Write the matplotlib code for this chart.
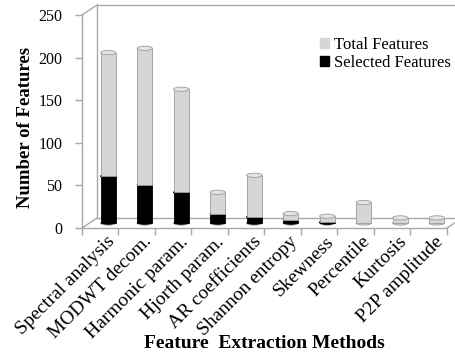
import numpy as np
import matplotlib.pyplot as plt
import matplotlib.transforms as mtransforms
from matplotlib.patches import Ellipse, Patch

plt.rcParams['font.family'] = ['Liberation Serif', 'DejaVu Serif']

methods = ['Spectral analysis', 'MODWT decom.', 'Harmonic param.', 'Hjorth param.',
           'AR coefficients', 'Shannon entropy', 'Skewness', 'Percentile',
           'Kurtosis', 'P2P amplitude']
total = [200, 205, 157, 36, 56, 11, 8, 24, 6, 6]
selected = [55, 45, 36, 11, 7, 4, 1, 0, 0, 0]

grey = '#d6d6d6'
edge = '#9c9c9c'
wall = '#a8a8a8'

fig = plt.figure(figsize=(4.56, 3.56), dpi=100)
ax = fig.add_axes([82/456, 1-228/356, 365/456, 213/356])
ax.set_xlim(0, 10)
ax.set_ylim(0, 250)

# bars sit half way into the 3d box
shift = mtransforms.ScaledTranslation(0.08, 0.05, fig.dpi_scale_trans)
tr = ax.transData + shift

x = np.arange(len(methods)) + 0.5
w = 0.42
cap = 5.0  # ellipse height in data units

for xi, t, s in zip(x, total, selected):
    base_col = 'black' if s > 0 else grey
    ax.add_patch(Ellipse((xi, 0), w, cap, transform=tr, facecolor=base_col,
                         edgecolor=edge, lw=0.6, zorder=3))
    if s > 0:
        ax.bar(xi, s, w, color='black', edgecolor='black', lw=0.6, transform=tr, zorder=4)
        ax.add_patch(Ellipse((xi, s), w, cap, transform=tr, facecolor='black',
                             edgecolor='black', lw=0.6, zorder=4.5))
    ax.bar(xi, t - s, w, bottom=s, color=grey, edgecolor=edge, lw=0.6, transform=tr, zorder=5)
    ax.add_patch(Ellipse((xi, t), w, cap, transform=tr, facecolor='#e4e4e4',
                         edgecolor=edge, lw=0.6, zorder=6))

# back wall / floor of the 3d box
dx, dy = 15/365, 10/213
kw = dict(transform=ax.transAxes, color=wall, lw=1.0, clip_on=False, zorder=1)
ax.plot([dx, dx], [dy, 1+dy], **kw)
ax.plot([dx, 1.03], [1+dy, 1+dy], **kw)
ax.plot([dx, 1+dx], [dy, dy], **kw)
ax.plot([0, dx], [0, dy], **kw)
ax.plot([0, dx], [1, 1+dy], **kw)
ax.plot([1, 1+dx], [0, dy], **kw)

for side in ['top', 'right']:
    ax.spines[side].set_visible(False)
for side in ['left', 'bottom']:
    ax.spines[side].set_color(wall)
    ax.spines[side].set_linewidth(1.0)

ax.set_yticks(np.arange(0, 251, 50))
ax.tick_params(axis='y', colors=wall, labelcolor='black', labelsize=11.5, length=5, width=1, pad=9)

ax.set_xticks(np.arange(11))
ax.set_xticklabels([])
ax.set_xticks(x, minor=True)
ax.set_xticklabels(methods, minor=True, rotation=45, ha='right', va='center',
                   rotation_mode='anchor', fontsize=14)
ax.tick_params(axis='x', which='major', colors=wall, length=5, width=1)
ax.tick_params(axis='x', which='minor', length=0, pad=8)
lab_shift = mtransforms.ScaledTranslation(0.12, 0, fig.dpi_scale_trans)
for lab in ax.get_xticklabels(minor=True):
    lab.set_transform(lab.get_transform() + lab_shift)

ax.set_ylabel('Number of Features', fontsize=13.5, fontweight='bold', va='center')
ax.yaxis.set_label_coords(-0.155, 0.474)
ax.set_xlabel('Feature  Extraction Methods', fontsize=14, fontweight='bold', va='center')
ax.xaxis.set_label_coords(0.5, -0.54)

handles = [Patch(color=grey, label='Total Features'),
           Patch(color='black', label='Selected Features')]
fig.legend(handles=handles, loc='upper left', bbox_to_anchor=(312/456, 1-29/356),
           frameon=False, fontsize=12, handlelength=0.55, handleheight=0.55,
           handletextpad=0.3, labelspacing=0.1, borderpad=0)

fig.savefig('out.png', dpi=100)
